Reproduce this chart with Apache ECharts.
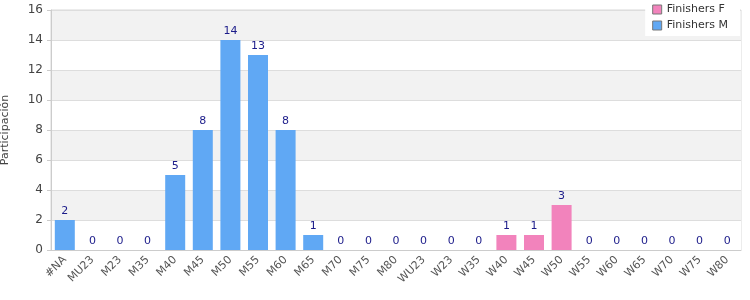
<!DOCTYPE html>
<html><head><meta charset="utf-8">
<script src="https://cdn.jsdelivr.net/npm/echarts@6/dist/echarts.min.js"></script>
<style>html,body{margin:0;padding:0;background:#fff}#c{width:750px;height:300px}</style>
</head><body><div id="c"></div>
<script>
const categories = ['#NA','MU23','M23','M35','M40','M45','M50','M55','M60','M65','M70','M75','M80','WU23','W23','W35','W40','W45','W50','W55','W60','W65','W70','W75','W80'];
const finishersF = ['-','-','-','-','-','-','-','-','-','-','-','-','-',0,0,0,1,1,3,0,0,0,0,0,0];
const finishersM = [2,0,0,0,5,8,14,13,8,1,0,0,0,'-','-','-','-','-','-','-','-','-','-','-','-'];
const yTicks = {min:0, max:16, interval:2};

const chart = echarts.init(document.getElementById('c'));
const lbl = {show:true, position:'top', color:'#1c1c8a', fontSize:11, fontFamily:'DejaVu Sans', distance:3};
chart.setOption({
  animation:false,
  textStyle:{fontFamily:'DejaVu Sans'},
  grid:{left:51,right:9,top:10,bottom:50,containLabel:false,outerBoundsMode:'none',show:true,borderColor:'#d9d9d9',borderWidth:1,backgroundColor:'transparent'},
  legend:{orient:'vertical',right:10,top:0,padding:[4,12,5,7],backgroundColor:'#fff',itemWidth:9,itemHeight:9,itemGap:5,
    itemStyle:{borderColor:'#777',borderWidth:1},
    textStyle:{fontSize:11,color:'#333'},icon:'rect',data:['Finishers F','Finishers M']},
  xAxis:{type:'category',data:categories,axisLine:{lineStyle:{color:'#ccc'}},axisTick:{show:false},
    axisLabel:{rotate:45,interval:0,color:'#555',fontSize:11,margin:8}},
  yAxis:{type:'value',min:yTicks.min,max:yTicks.max,interval:yTicks.interval,name:'Participación',nameLocation:'middle',nameGap:40,
    nameTextStyle:{color:'#444',fontSize:11},
    axisLine:{show:true,lineStyle:{color:'#ccc'}},axisTick:{show:true,length:4,lineStyle:{color:'#ccc'}},
    axisLabel:{color:'#444',fontSize:12,margin:8},
    splitLine:{lineStyle:{color:'#ddd'}},splitArea:{show:true,areaStyle:{color:['#ffffff','#f2f2f2']}}},
  series:[
    {name:'Finishers F',type:'bar',stack:'a',data:finishersF,barWidth:20,label:lbl,
     itemStyle:{color:'#f283bc'}},
    {name:'Finishers M',type:'bar',stack:'a',data:finishersM,barWidth:20,label:lbl,
     itemStyle:{color:'#60a8f4'}}
  ]
});
</script></body></html>
